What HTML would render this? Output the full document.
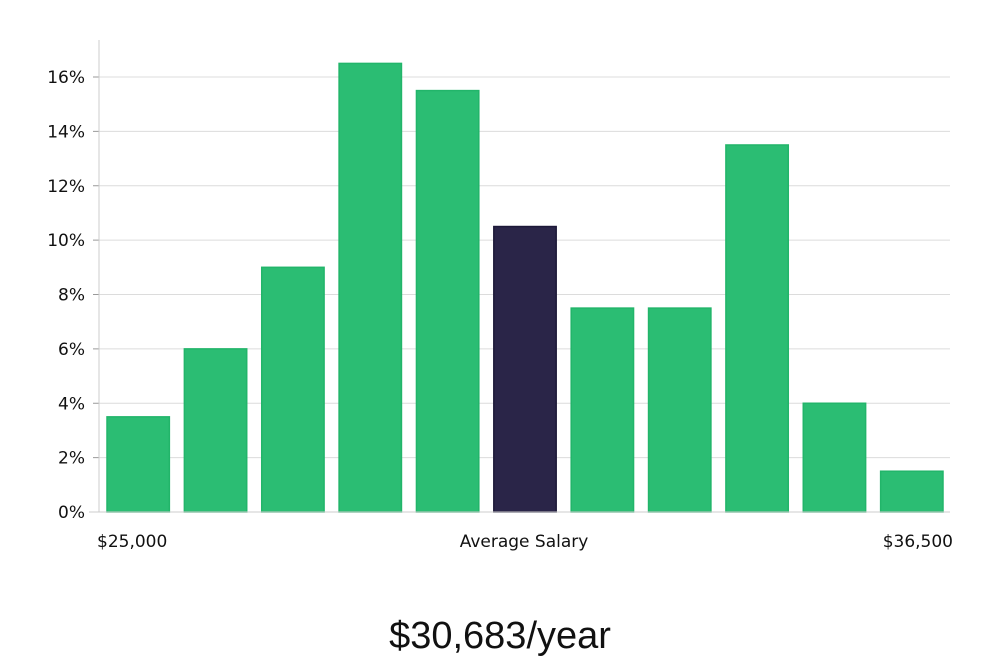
<!DOCTYPE html>
<html><head><meta charset="utf-8"><style>
body{margin:0;background:#fff;width:1000px;height:660px;overflow:hidden;font-family:"DejaVu Sans","Liberation Sans",sans-serif;}
</style></head><body>
<svg id="chart" width="1000" height="660" xmlns="http://www.w3.org/2000/svg"></svg>
<script>
const categories=["b1","b2","b3","b4","b5","b6","b7","b8","b9","b10","b11"];
const values=[3.5,6,9,16.5,15.5,10.5,7.5,7.5,13.5,4,1.5];
const highlightIndex=5;
const yTicks=[0,2,4,6,8,10,12,14,16];
const xLabels=["$25,000","Average Salary","$36,500"];
const NS="http://www.w3.org/2000/svg";
const svg=document.getElementById('chart');
const x0=99,x1=950,yBase=512,yTop=40;
const pxPerPct=(512-77)/16;
function y(v){return yBase-v*pxPerPct;}
const band=(x1-x0)/categories.length;
function xb(i){return x0+i*band;}
function mk(t,a){const e=document.createElementNS(NS,t);for(const k in a)e.setAttribute(k,a[k]);svg.appendChild(e);return e;}
yTicks.forEach(t=>{
 const g=mk('line',{x1:x0,x2:x1,y1:y(t),y2:y(t),stroke:'#dcdcdc','stroke-width':1});
 
 
 const tk=mk('line',{x1:x0-6,x2:x0,y1:y(t),y2:y(t),stroke:'#999'});
 
 
 const tx=mk('text',{x:x0-14,y:y(t)+6,'text-anchor':'end','font-size':17,fill:'#111'});
 tx.textContent=t+'%';
 
 
});
const ax=mk('line',{x1:x0,x2:x0,y1:yTop,y2:yBase,stroke:'#ccc'});


values.forEach((v,i)=>{
 const hi=i===highlightIndex;
 const r=mk('rect',{x:xb(i)+8,y:y(v),width:band-15,height:yBase-y(v),fill:hi?'#2a2548':'#2bbd73',stroke:hi?'#1c1838':'#22b56a','stroke-width':1.5});
 
 
});
const xa=mk('line',{x1:x0-10,x2:x1,y1:yBase,y2:yBase,stroke:'#ccc'});


const lp=[[97,'start'],[524,'middle'],[953,'end']];
xLabels.forEach((l,i)=>{
 const t=mk('text',{x:lp[i][0],y:547,'text-anchor':lp[i][1],'font-size':17,fill:'#111'});
 t.textContent=l;
 
 
});
const s=mk('text',{x:500,y:648,'text-anchor':'middle','font-size':38,fill:'#111','font-family':'"Liberation Sans Narrow","Liberation Sans",sans-serif'});
s.textContent='$30,683/year';


</script>
</body></html>
